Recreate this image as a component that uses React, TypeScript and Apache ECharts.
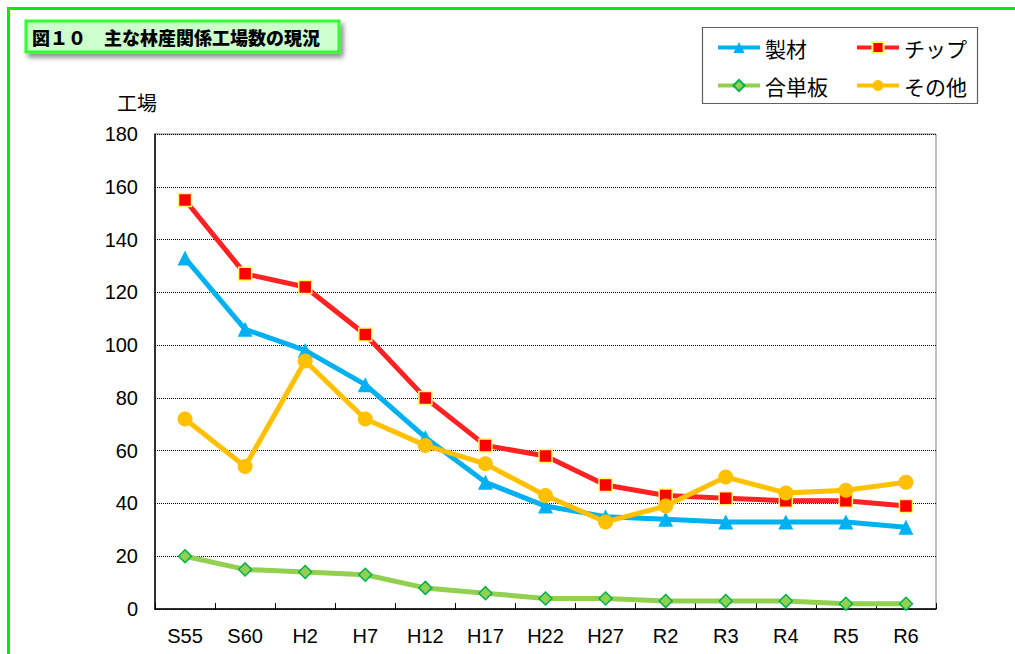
import React, { useEffect, useRef } from "react";
import * as echarts from "echarts";

const categories = ["S55", "S60", "H2", "H7", "H12", "H17", "H22", "H27", "R2", "R3", "R4", "R5", "R6"];
const seizai = [133, 106, 98, 85, 65, 48, 39, 35, 34, 33, 33, 33, 31];
const chip = [155, 127, 122, 104, 80, 62, 58, 47, 43, 42, 41, 41, 39];
const gohanban = [20, 15, 14, 13, 8, 6, 4, 4, 3, 3, 3, 2, 2];
const sonota = [72, 54, 94, 72, 62, 55, 43, 33, 39, 50, 44, 45, 48];

const FONT = "'Liberation Sans', Arial, 'Noto Sans CJK JP', sans-serif";
const JFONT = "'Noto Sans CJK JP', sans-serif";

export default function App() {
  const ref = useRef<HTMLDivElement>(null);
  useEffect(() => {
    if (!ref.current) return;
    const chart = echarts.init(ref.current, null, { renderer: "svg" });
    const legendCommon = {
      orient: "horizontal",
      itemWidth: 42,
      itemHeight: 14,
      lineStyle: { width: 4 },
      textStyle: { fontSize: 21, color: "#000", fontFamily: JFONT },
      selectedMode: false,
    };
    chart.setOption({
      animation: false,
      backgroundColor: "#fff",
      grid: {
        left: 155,
        right: 79,
        top: 134,
        bottom: 45,
        show: true,
        borderColor: "#808080",
        borderWidth: 1,
      },
      legend: [
        { ...legendCommon, data: ["製材"], left: 711, top: 32 },
        { ...legendCommon, data: ["チップ"], left: 850, top: 32 },
        { ...legendCommon, data: ["合単板"], left: 711, top: 70 },
        { ...legendCommon, data: ["その他"], left: 850, top: 70 },
      ],
      xAxis: {
        type: "category",
        data: categories,
        boundaryGap: true,
        axisLine: { lineStyle: { color: "#000", width: 1.5 } },
        axisTick: { show: true, inside: true, length: 6, lineStyle: { color: "#000" } },
        axisLabel: { fontSize: 20, color: "#000", fontFamily: FONT, margin: 17 },
      },
      yAxis: {
        type: "value",
        min: 0,
        max: 180,
        interval: 20,
        name: "工場",
        nameLocation: "end",
        nameGap: 22,
        nameTextStyle: { fontSize: 20, color: "#000", fontFamily: JFONT, align: "right", padding: [0, -2, 0, 0] },
        axisLine: { show: true, lineStyle: { color: "#000", width: 1.5 } },
        axisTick: { show: false },
        axisLabel: { fontSize: 20, color: "#000", fontFamily: FONT, margin: 17 },
        splitLine: { show: true, lineStyle: { color: "#000", type: [1, 1], width: 1 } },
      },
      graphic: [
        {
          type: "rect",
          z: -1,
          shape: { x: 8.5, y: 8.5, width: 1100, height: 700 },
          style: { fill: "none", stroke: "#00ee00", lineWidth: 3 },
        },
        {
          type: "rect",
          shape: { x: 26, y: 21, width: 313, height: 31 },
          style: {
            fill: "#ccffcc",
            stroke: "#33ff33",
            lineWidth: 3,
            shadowBlur: 5,
            shadowOffsetX: 3,
            shadowOffsetY: 4,
            shadowColor: "rgba(0,0,0,0.45)",
          },
        },
        {
          type: "text",
          x: 32,
          y: 37,
          style: {
            text: "図１０　主な林産関係工場数の現況",
            fontSize: 18,
            fontWeight: 900,
            fill: "#000",
            fontFamily: JFONT,
            verticalAlign: "middle",
          },
        },
        {
          type: "rect",
          shape: { x: 702.5, y: 27.5, width: 275, height: 76 },
          style: { fill: "#fff", stroke: "#606060", lineWidth: 1.2 },
          z: -1,
        },
      ],
      series: [
        {
          name: "製材",
          type: "line",
          data: seizai,
          symbol: "triangle",
          symbolSize: 15,
          lineStyle: { color: "#00b0f0", width: 5 },
          itemStyle: { color: "#00b0f0" },
          z: 3,
        },
        {
          name: "チップ",
          type: "line",
          data: chip,
          symbol: "rect",
          symbolSize: 13,
          lineStyle: { color: "#ff2222", width: 5 },
          itemStyle: { color: "#ff0000", borderColor: "#ffff66", borderWidth: 1.5 },
          z: 4,
        },
        {
          name: "合単板",
          type: "line",
          data: gohanban,
          symbol: "diamond",
          symbolSize: 13,
          lineStyle: { color: "#92d050", width: 5 },
          itemStyle: { color: "#92d050", borderColor: "#00b050", borderWidth: 1.5 },
          z: 3,
        },
        {
          name: "その他",
          type: "line",
          data: sonota,
          symbol: "circle",
          symbolSize: 15,
          lineStyle: { color: "#ffc000", width: 5 },
          itemStyle: { color: "#ffc000" },
          z: 5,
        },
      ],
    });
    return () => chart.dispose();
  }, []);
  return (
    <div
      ref={ref}
      style={{ position: "absolute", left: 0, top: 0, width: 1015, height: 654 }}
    />
  );
}
